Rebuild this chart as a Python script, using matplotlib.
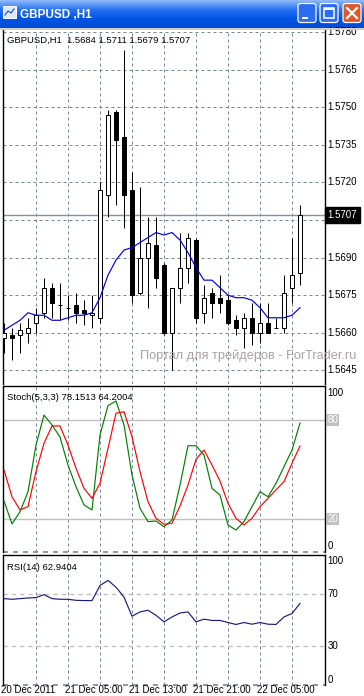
import matplotlib

matplotlib.use("Agg")
import matplotlib.pyplot as plt
import numpy as np
from matplotlib.patches import FancyBboxPatch, Rectangle

W, H = 364, 696
FONT = "Liberation Sans"

# GBPUSD H1 bars, 20 Dec 21:00 .. 22 Dec 10:00
OPEN = [1.5658, 1.5659, 1.5659, 1.5660, 1.5664, 1.5668, 1.5678, 1.5671, 1.5670, 1.5671,
        1.5669, 1.5667, 1.5666, 1.5715, 1.5748, 1.5738, 1.5717, 1.5676, 1.5690, 1.5695,
        1.5687, 1.5660, 1.5678, 1.5686, 1.5697, 1.5668, 1.5676, 1.5674, 1.5673, 1.5665,
        1.5662, 1.5666, 1.5660, 1.5664, 1.5662, 1.5662, 1.5678, 1.5684]
HIGH = [1.5664, 1.5662, 1.5664, 1.5666, 1.5670, 1.5682, 1.5680, 1.5680, 1.5675, 1.5676,
        1.5673, 1.5675, 1.5720, 1.5749, 1.5749, 1.5773, 1.5724, 1.5718, 1.5706, 1.5706,
        1.5688, 1.5678, 1.5700, 1.5700, 1.5698, 1.5679, 1.5678, 1.5683, 1.5675, 1.5667,
        1.5668, 1.5672, 1.5672, 1.5672, 1.5666, 1.5683, 1.5698, 1.5711]
LOW = [1.5652, 1.5649, 1.5652, 1.5656, 1.5660, 1.5666, 1.5666, 1.5665, 1.5665, 1.5664,
       1.5663, 1.5662, 1.5664, 1.5706, 1.5711, 1.5702, 1.5672, 1.5675, 1.5670, 1.5678,
       1.5659, 1.5645, 1.5672, 1.5680, 1.5664, 1.5664, 1.5666, 1.5668, 1.5663, 1.5659,
       1.5654, 1.5655, 1.5656, 1.5660, 1.5662, 1.5660, 1.5672, 1.5679]
CLOSE = [1.5660, 1.5658, 1.5661, 1.5662, 1.5667, 1.5678, 1.5672, 1.5671, 1.5670, 1.5668,
         1.5668, 1.5668, 1.5717, 1.5747, 1.5737, 1.5715, 1.5675, 1.5690, 1.5696, 1.5682,
         1.5660, 1.5678, 1.5686, 1.5698, 1.5666, 1.5674, 1.5672, 1.5672, 1.5664, 1.5662,
         1.5666, 1.5660, 1.5664, 1.5660, 1.5662, 1.5676, 1.5683, 1.5707]
MA = [1.5661, 1.5663, 1.5665, 1.5668, 1.5667, 1.5667, 1.5665, 1.5665, 1.5666, 1.5667,
      1.5667, 1.5668, 1.5674, 1.5683, 1.5689, 1.5693, 1.5694, 1.5696, 1.5698, 1.5700,
      1.5699, 1.5700, 1.5697, 1.5692, 1.5686, 1.5681, 1.5681, 1.5678, 1.5675, 1.5674,
      1.5674, 1.5673, 1.5670, 1.5666, 1.5666, 1.5666, 1.5667, 1.5670]
STOCH_K = [30.9, 17.0, 24.4, 36.5, 64.8, 83.0, 77.0, 69.7, 52.7, 39.6,
           28.5, 25.5, 70.9, 88.7, 91.5, 77.0, 46.7, 26.5, 18.4, 18.8,
           15.3, 19.4, 40.6, 64.4, 64.4, 58.8, 38.6, 34.5, 16.4, 13.3,
           18.4, 27.5, 36.5, 33.5, 41.6, 51.7, 61.8, 78.1513]
STOCH_D = [49.7, 33.5, 25.5, 27.5, 48.7, 65.9, 76.4, 76.4, 64.8, 50.7,
           38.6, 32.5, 41.6, 62.8, 84.1, 85.0, 69.9, 48.7, 30.5, 20.4,
           16.8, 17.4, 27.9, 40.6, 56.2, 61.8, 52.7, 43.0, 29.5, 20.4,
           16.4, 20.4, 27.5, 32.5, 37.6, 42.6, 53.8, 64.2004]
RSI = [66.7, 66.2, 66.7, 67.2, 67.5, 69.8, 66.7, 66.2, 66.2, 65.4,
       65.2, 65.2, 76.9, 80.8, 75.6, 67.9, 53.1, 56.4, 57.7, 53.8,
       48.7, 52.5, 55.6, 56.4, 48.7, 50.8, 49.8, 49.8, 48.2, 46.7,
       48.2, 46.9, 48.2, 46.9, 46.7, 52.5, 55.2, 62.9404]

PRICE_TICKS = [1.5645, 1.5660, 1.5675, 1.5690, 1.5705, 1.5720, 1.5735, 1.5750, 1.5765, 1.5780]
DATE_LABELS = ["20 Dec 2011", "21 Dec 05:00", "21 Dec 13:00", "21 Dec 21:00", "22 Dec 05:00"]
DATE_BARS = [0, 8, 16, 24, 32]
GRID_BARS = list(range(4, 37, 4))

GRID_COLOR = "#778899"
LEVEL_COLOR = "#C0C0C0"
DASH = (0, (3, 3))
PX = 0.72  # one pixel in points at dpi 100


def px_axes(fig, left, top, right, bottom):
    return fig.add_axes([left / W, 1 - bottom / H, (right - left) / W, (bottom - top) / H])


def style_panel(ax, ylim, top_spine=True, bottom_dashed=True):
    ax.set_xlim(-0.125, -0.125 + 322 / 8)
    ax.set_ylim(*ylim)
    ax.set_xticks([])
    ax.set_yticks([])
    for side in ("left", "right", "top"):
        ax.spines[side].set_color("black")
        ax.spines[side].set_linewidth(1.0)
    ax.spines["top"].set_visible(top_spine)
    ax.spines["bottom"].set_visible(False)
    for b in GRID_BARS:
        ax.axvline(b, color=GRID_COLOR, lw=PX, ls=DASH, zorder=1)
    if bottom_dashed:
        ax.axhline(ylim[0], color=GRID_COLOR, lw=1.2, ls=DASH, zorder=1, clip_on=False)


def right_label(ax, text, y, dy_px=0.0, box=False):
    kw = {}
    if box:
        kw["bbox"] = dict(boxstyle="square,pad=0.12", fc=LEVEL_COLOR, ec="none")
    ax.annotate(text, xy=(1, y), xycoords=("axes fraction", "data"),
                xytext=(2.5 * PX, dy_px * PX), textcoords="offset points",
                va="center", ha="left", fontsize=7, family=FONT,
                color="white" if box else "black", annotation_clip=False, **kw)


fig = plt.figure(figsize=(W / 100, H / 100), dpi=100, facecolor="white")

# ---- title bar ----
tb = fig.add_axes([0, 1 - 28 / H, 1, 28 / H])
tb.set_xlim(0, W)
tb.set_ylim(28, 0)
tb.axis("off")
stops = np.array([[0.55, 0.72, 0.98], [0.16, 0.45, 0.95], [0.0, 0.33, 0.89], [0.0, 0.30, 0.84]])
rows = np.vstack([np.interp(np.linspace(0, 3, 28), np.arange(4), stops[:, c]) for c in range(3)]).T
tb.imshow(rows[:, None, :], extent=(0, W, 28, 0), aspect="auto")
tb.add_patch(Rectangle((3, 6), 13, 12, fc="#DDE8F8", ec="white", lw=0.7))
tb.plot([5, 8, 11, 14], [15, 11, 13, 9], color="#1050C0", lw=0.8)
tb.text(20, 14.5, "GBPUSD ,H1", color="white", fontsize=8.5, fontweight="bold",
        family=FONT, va="center", ha="left")
for x0, fc in ((297, "#2C6CF0"), (319, "#2C6CF0"), (342, "#E0552A")):
    tb.add_patch(FancyBboxPatch((x0 + 1, 3.5), 18, 19, boxstyle="round,pad=0,rounding_size=2.5",
                                fc=fc, ec="white", lw=0.9))
tb.add_patch(Rectangle((302, 16.5), 6, 2.2, fc="white", ec="none"))
tb.add_patch(Rectangle((324, 7.5), 10, 10, fc="none", ec="white", lw=1.1))
tb.add_patch(Rectangle((324, 7.5), 10, 2, fc="white", ec="none"))
tb.plot([347, 357], [8, 18], color="white", lw=1.6)
tb.plot([347, 357], [18, 8], color="white", lw=1.6)
fig.patches.append(Rectangle((0, 1 - 30 / H), 1, 2 / H, transform=fig.transFigure,
                             fc="#D4D0C8", ec="none"))

# ---- main price panel ----
ax = px_axes(fig, 3, 30, 325, 384)
p_top = 1.5780 + 2 * 0.0015 / 37.6
p_bot = 1.5780 - 352 * 0.0015 / 37.6
style_panel(ax, (p_bot, p_top), top_spine=False, bottom_dashed=False)
for p in PRICE_TICKS:
    ax.axhline(p, color=GRID_COLOR, lw=PX, ls=DASH, zorder=1)
x = np.arange(len(CLOSE))
o, h, l, c = map(np.array, (OPEN, HIGH, LOW, CLOSE))
ax.vlines(x, l, h, color="black", lw=PX, zorder=2)
up = c >= o
body_lo = np.minimum(o, c)
body_h = np.maximum(np.abs(c - o), 1e-7)
ax.bar(x[up], body_h[up], bottom=body_lo[up], width=0.5, color="white",
       edgecolor="black", linewidth=PX, zorder=3)
ax.bar(x[~up], body_h[~up], bottom=body_lo[~up], width=0.5, color="black",
       edgecolor="black", linewidth=PX, zorder=3)
ax.plot(x, MA, color="#0000E6", lw=0.85, zorder=4)
ax.axhline(CLOSE[-1], color="#8393A6", lw=1.0, zorder=1.5)
for p in PRICE_TICKS:
    right_label(ax, f"{p:.4f}", p)
ax.annotate(f"{CLOSE[-1]:.4f}", xy=(1, CLOSE[-1]), xycoords=("axes fraction", "data"),
            xytext=(2.5 * PX, 0), textcoords="offset points", va="center", ha="left",
            fontsize=7, family=FONT, color="white", annotation_clip=False, zorder=10,
            bbox=dict(boxstyle="square,pad=0.3", fc="black", ec="black"))
ax.text(0.012, 0.972, f"GBPUSD,H1  {OPEN[-1]:.4f} {HIGH[-1]:.4f} {LOW[-1]:.4f} {CLOSE[-1]:.4f}",
        transform=ax.transAxes, fontsize=6.8, family=FONT, va="center", ha="left")
fig.text(140 / W, 1 - 356 / H, "Портал для трейдеров - ForTrader.ru", color="#ABA2A2",
         fontsize=9.2, family=FONT, va="center", ha="left")

# ---- stochastic panel ----
ax2 = px_axes(fig, 3, 386, 325, 552)
style_panel(ax2, (0, 100.6))
ax2.axhline(80, color=LEVEL_COLOR, lw=1.0, zorder=1)
ax2.axhline(20, color=LEVEL_COLOR, lw=1.0, zorder=1)
ax2.plot(x, STOCH_K, color="#008000", lw=0.85, zorder=3)
ax2.plot(x, STOCH_D, color="#FF0000", lw=0.85, zorder=3)
right_label(ax2, "100", 100, -6)
right_label(ax2, "80", 80, box=True)
right_label(ax2, "20", 20, box=True)
right_label(ax2, "0", 0, 6)
ax2.text(0.012, 0.93, f"Stoch(5,3,3) {STOCH_K[-1]:.4f} {STOCH_D[-1]:.4f}",
         transform=ax2.transAxes, fontsize=6.8, family=FONT, va="center", ha="left")

# ---- RSI panel ----
ax3 = px_axes(fig, 3, 555, 325, 685)
style_panel(ax3, (-0.2, 100.5))
ax3.axhline(70, color=LEVEL_COLOR, lw=1.0, ls=DASH, zorder=1)
ax3.axhline(30, color=LEVEL_COLOR, lw=1.0, ls=DASH, zorder=1)
ax3.plot(x, RSI, color="#1C1C80", lw=0.85, zorder=3)
right_label(ax3, "100", 100, -5.5)
right_label(ax3, "70", 70)
right_label(ax3, "30", 30)
right_label(ax3, "0", 0, 5)
ax3.text(0.012, 0.9, f"RSI(14) {RSI[-1]:.4f}", transform=ax3.transAxes, fontsize=6.8,
         family=FONT, va="center", ha="left")
for b, lab in zip(DATE_BARS, DATE_LABELS):
    ax3.annotate(lab, xy=(b, 0), xycoords=("data", "axes fraction"), xytext=(-3 * PX, -5 * PX),
                 textcoords="offset points", va="center", ha="left", fontsize=7,
                 family=FONT, annotation_clip=False)

fig.savefig("out.png", dpi=100)
